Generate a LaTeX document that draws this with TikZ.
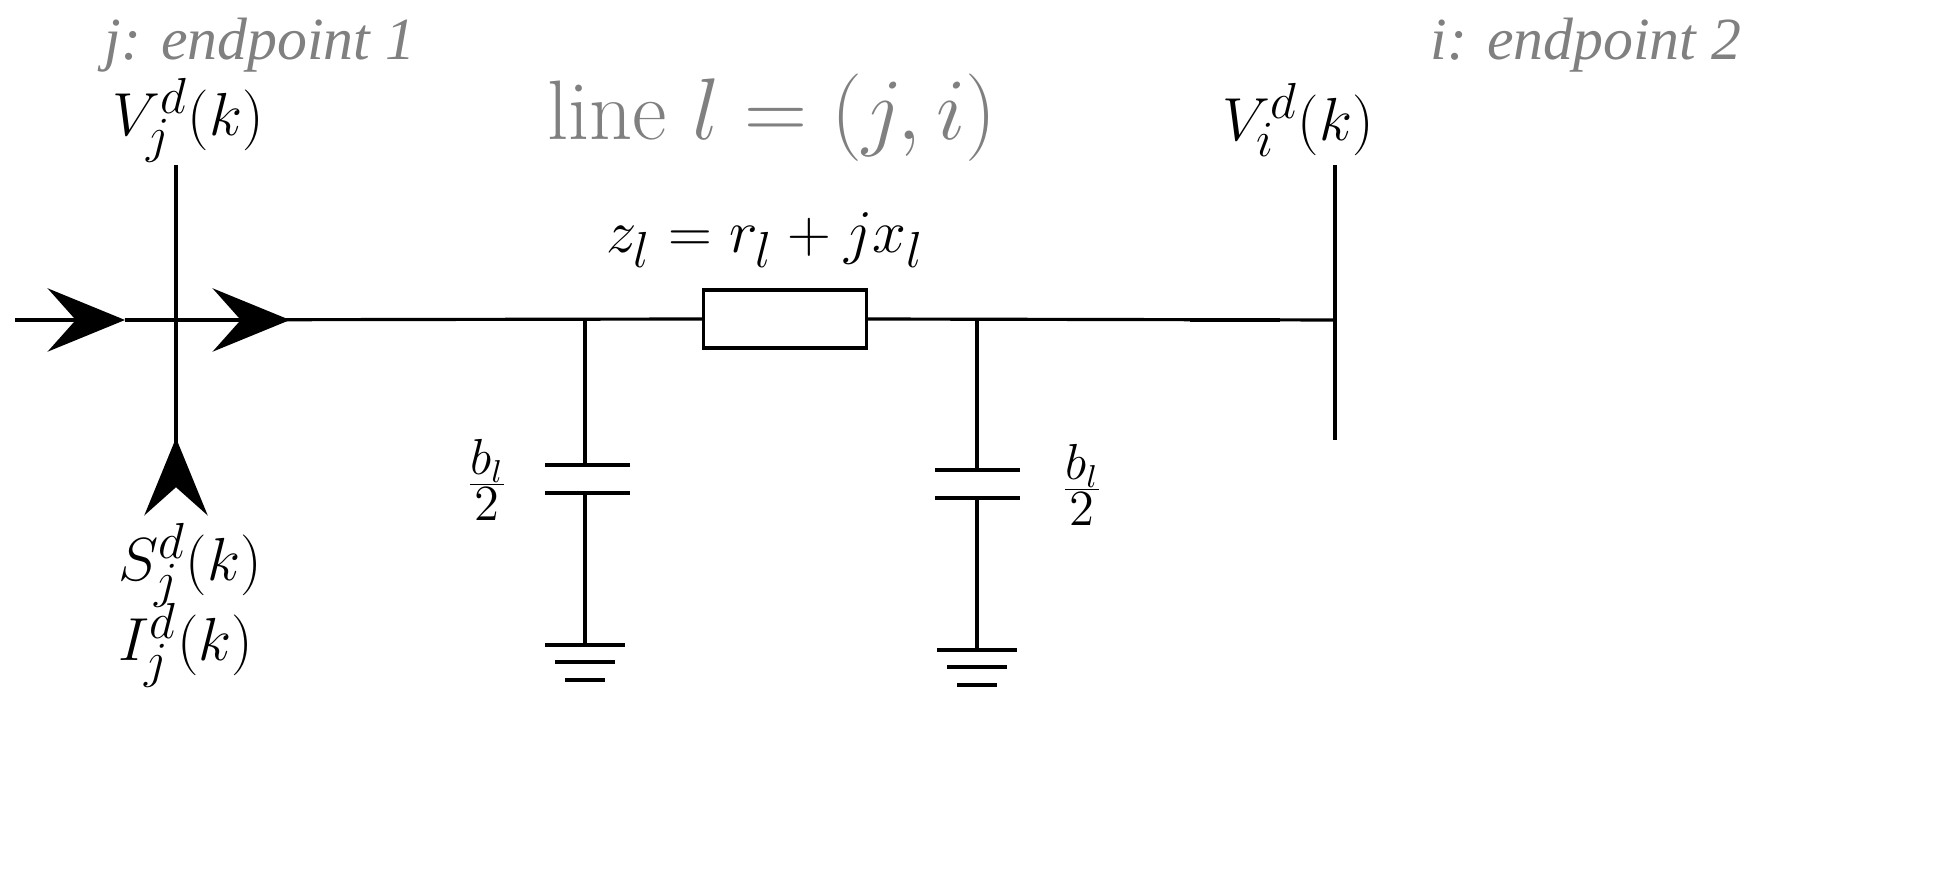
\documentclass[tikz,border=0pt]{standalone}
\usepackage{fontspec}
\newfontfamily\tnr{Liberation Serif}
\usetikzlibrary{arrows.meta}
\begin{document}
\begin{tikzpicture}[x=0.01cm,y=-0.01cm,
  wire/.style={line width=0.9pt},
  lbl/.style={font=\fontsize{19}{23}\selectfont},
  gray lbl/.style={font=\fontsize{17}{21}\selectfont\tnr\itshape, text=gray},
  arr/.style={-{Stealth[length=22pt,width=18pt,inset=8pt]}, line width=0.9pt}]
\useasboundingbox (0,0) rectangle (1955,886);
\coordinate (L0) at (15,320);
\coordinate (A1) at (125,320);
\coordinate (A2) at (290,320);
\coordinate (Jt) at (176,165);
\coordinate (Jb) at (176,480);
\coordinate (Ja) at (176,438);
\coordinate (C1) at (585,320);
\coordinate (C2) at (977,320);
\coordinate (Ii) at (1335,320);
\coordinate (It) at (1335,165);
\coordinate (Ib) at (1335,440);
\node[draw, line width=0.9pt, inner sep=0pt, minimum width=1.63cm, minimum height=0.58cm] (R) at (785,319) {};
\draw[arr] (L0) -- (A1);
\draw[wire] (A1) -- (R.west);
\draw[arr] (A1) -- (A2);
\draw[wire] (R.east) -- (Ii);
\draw[line width=1.4pt] (1190,320) -- (1280,320);
\draw[wire] (Jt) -- (Jb);
\draw[arr] (Jb) -- (Ja);
\draw[wire] (It) -- (Ib);
\coordinate (P1a) at (585,465); \coordinate (P1b) at (585,493); \coordinate (G1) at (585,645);
\draw[wire] (C1) -- (P1a);
\draw[wire] (545,465) -- (630,465);
\draw[wire] (545,493) -- (630,493);
\draw[wire] (P1b) -- (G1);
\draw[wire] (545,645) -- (625,645);
\draw[wire] (555,662) -- (615,662);
\draw[wire] (565,680) -- (605,680);
\coordinate (P2a) at (977,470); \coordinate (P2b) at (977,498); \coordinate (G2) at (977,650);
\draw[wire] (C2) -- (P2a);
\draw[wire] (935,470) -- (1020,470);
\draw[wire] (935,498) -- (1020,498);
\draw[wire] (P2b) -- (G2);
\draw[wire] (937,650) -- (1017,650);
\draw[wire] (947,667) -- (1007,667);
\draw[wire] (957,685) -- (997,685);
\node[gray lbl] (t1) at (260,45) {j: endpoint 1};
\node[gray lbl] (t2) at (1586,45) {i: endpoint 2};
\node[lbl] (vj) at (188,120) {$V_j^d(k)$};
\node[lbl] (vi) at (1298,120) {$V_i^d(k)$};
\node[font=\fontsize{24}{28}\selectfont, text=gray] (ln) at (772,118) {line $l=(j,i)$};
\node[lbl] (z) at (765,240) {$z_l = r_l + jx_l$};
\node[lbl] (b1) at (487,480) {$\frac{b_l}{2}$};
\node[lbl] (b2) at (1082,485) {$\frac{b_l}{2}$};
\node[lbl] (sj) at (190,565) {$S_j^d(k)$};
\node[lbl] (ij) at (186,645) {$I_j^d(k)$};
\end{tikzpicture}
\end{document}
